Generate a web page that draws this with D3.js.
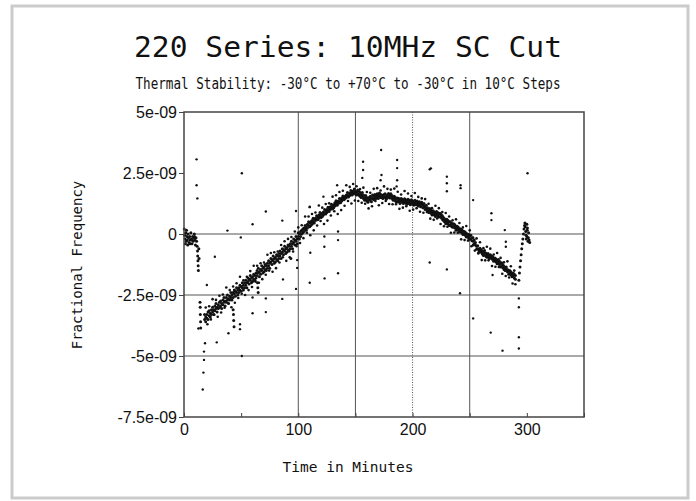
<!DOCTYPE html>
<html>
<head>
<meta charset="utf-8">
<script src="https://cdn.jsdelivr.net/npm/d3@7"></script>
<style>body{margin:0;background:#fff;}</style>
</head>
<body>
<script>
// values are fractional frequency in units of 1e-9
const timeTicks = [0, 100, 200, 300];
const timeMinorTicks = [0, 50, 100, 150, 200, 250, 300, 350];
const freqTicks = [5, 2.5, 0, -2.5, -5, -7.5];
const freqLabels = ["5e-09", "2.5e-09", "0", "-2.5e-09", "-5e-09", "-7.5e-09"];
const gridTimes = [100, 150, 250];
const dottedTimes = [200];
const gridFreqs = [0, -2.5, -5];

// main trace [minutes, value]
const trend = [
  [0.2,0.2],[0.5,-0.05],[1,-0.2],[1.2,-0.4],[1.5,0.05],[2,-0.3],[2.2,0.15],[2.5,-0.1],[3,-0.25],[3.2,-0.45],
  [3.5,0],[4,-0.15],[4.5,-0.35],[5,-0.1],[5.2,-0.4],[5.5,-0.25],[6,0.05],[6.5,-0.2],[7,-0.4],[7.2,-0.25],
  [7.5,-0.1],[8,-0.3],[8.5,-0.15],[9,0],[9.2,-0.1],[9.5,-0.25],[10,-0.45],[10.5,-0.15],[11,-0.3],
  [11.5,-0.5],[11.8,-0.7],[12,-0.9],[12.2,-1.1],[12.4,-1.3],[12.6,-1.5],[13,-0.6],[13.2,-1.0],
  [14,-2.8],[14.2,-3.0],[14.3,-3.3],[14.5,-3.6],[14.6,-3.85],
  [18,-3.5],[18,-3.3],[19,-3.4],[19,-3.6],[20,-3.3],[20,-3.45],[21,-3.2],[21,-3.5],[22,-3.35],[22,-3.15],
  [23,-3.25],[23,-3.4],[24,-3.1],[24,-3.3],[25,-3.2],[25,-3.0],[26,-3.1],[26,-3.3],[27,-2.95],[27,-3.15],
  [28,-3.05],[28,-2.85],[29,-3.0],[29,-3.2],[30,-2.9],[30,-3.05],[31,-2.8],[31,-3.0],[32,-2.95],[32,-2.75],
  [33,-2.85],[33,-3.05],[34,-2.7],[34,-2.9],[35,-2.8],[35,-2.6],[36,-2.75],[36,-2.95],[37,-2.6],[37,-2.8],
  [38,-2.7],[38,-2.5],[39,-2.65],[39,-2.85],[40,-2.55],[40,-2.7],[41,-2.6],[41,-2.4],[42,-2.5],[42,-2.7],
  [43,-2.4],[43,-2.6],[43,-3.1],[43.3,-3.3],[43.5,-3.55],[43.8,-3.8],[44,-2.45],[44,-2.3],[45,-2.35],[45,-2.55],
  [46,-2.4],[46,-2.2],[47,-2.3],[47,-2.5],[48,-2.2],[48,-2.4],[49,-2.3],[49,-2.1],[50,-2.15],[50,-2.35],
  [51,-2.2],[51,-2.0],[52,-2.1],[52,-2.3],[53,-2.0],[53,-2.2],[54,-2.1],[54,-1.9],[55,-2.0],[55,-2.2],
  [56,-1.95],[56,-1.8],[57,-1.85],[57,-2.05],[58,-1.9],[58,-1.7],[59,-1.8],[59,-2.0],[60,-1.75],[60,-1.95],
  [61,-1.85],[61,-1.65],[62,-1.7],[62,-1.9],[63,-1.6],[63,-1.8],[64,-1.7],[64,-1.5],[64.3,-2.0],[64.6,-2.2],
  [64.9,-2.4],[65,-1.6],[65,-1.4],[66,-1.55],[66,-1.75],[67,-1.45],[67,-1.65],[68,-1.5],[68,-1.3],[69,-1.4],
  [69,-1.6],[70,-1.35],[70,-1.55],[71,-1.45],[71,-1.25],[72,-1.3],[72,-1.5],[73,-1.2],[73,-1.4],[74,-1.3],
  [74,-1.1],[75,-1.2],[75,-1.4],[76,-1.15],[76,-1.0],[77,-1.05],[77,-1.25],[78,-1.1],[78,-0.9],[79,-1.0],
  [79,-1.2],[80,-0.95],[80,-1.15],[81,-1.05],[81,-0.85],[82,-0.9],[82,-1.1],[83,-0.8],[83,-1.0],[84,-0.9],
  [84,-0.7],[85,-0.8],[85,-1.0],[86,-0.75],[86,-0.6],[87,-0.65],[87,-0.85],[88,-0.7],[88,-0.5],[89,-0.6],
  [89,-0.8],[90,-0.55],[90,-0.75],[91,-0.65],[91,-0.45],[92,-0.5],[92,-0.7],[93,-0.4],[93,-0.6],[93.5,-1.0],
  [94,-0.5],[94,-0.3],[95,-0.4],[95,-0.6],[96,-0.35],[96,-0.2],[97,-0.25],[97,-0.45],[98,-0.3],[98,-0.1],
  [99,-0.2],[99,-0.4],[100,-0.1],[100,0.05],[101,0.0],[101,-0.2],[102,0.1],[102,-0.1],[103,0.15],[103,0.0],
  [104,0.2],[104,0.05],[105,0.25],[105,0.1],[106,0.2],[106,0.35],[107,0.3],[107,0.15],[108,0.4],[108,0.25],
  [109,0.35],[109,0.5],[110,0.45],[110,0.3],[111,0.5],[111,0.35],[112,0.55],[112,0.4],[113,0.5],[113,0.65],
  [114,0.6],[114,0.45],[115,0.65],[115,0.55],[116,0.6],[116,0.75],[117,0.7],[117,0.58],[118,0.78],[118,0.65],
  [119,0.72],[119,0.88],[120,0.8],[120,0.68],[121,0.85],[121,0.72],[122,0.9],[122,0.78],[123,0.85],[123,1.0],
  [124,0.95],[124,0.82],[125,1.0],[125,0.88],[126,0.95],[126,1.1],[127,1.05],[127,0.92],[128,1.12],[128,1.0],
  [129,1.08],[129,1.22],[130,1.15],[130,1.02],[131,1.2],[131,1.08],[132,1.28],[132,1.15],[133,1.22],[133,1.36],
  [134,1.3],[134,1.18],[135,1.35],[135,1.25],[136,1.3],[136,1.45],[137,1.4],[137,1.28],[138,1.48],[138,1.35],
  [139,1.42],[139,1.56],[140,1.5],[140,1.4],[141,1.55],[141,1.45],[142,1.6],[142,1.5],[143,1.56],[143,1.7],
  [144,1.62],[144,1.52],[145,1.68],[145,1.58],[146,1.62],[146,1.78],[147,1.7],[147,1.6],[148,1.76],[148,1.64],
  [149,1.7],[149,1.84],[150,1.75],[150,1.64],[151,1.72],[151,1.6],[152,1.65],[152,1.8],[153,1.6],[153,1.75],
  [154,1.7],[154,1.55],[155,1.62],[155,1.5],[156,1.55],[156,1.7],[157,1.45],[157,1.6],[158,1.5],[158,1.38],
  [159,1.42],[159,1.58],[160,1.35],[160,1.5],[161,1.45],[161,1.3],[162,1.5],[162,1.38],[163,1.4],[163,1.55],
  [164,1.32],[164,1.48],[165,1.45],[165,1.6],[166,1.55],[166,1.4],[167,1.48],[167,1.62],[168,1.58],[168,1.45],
  [169,1.52],[169,1.65],[170,1.6],[170,1.45],[171,1.55],[171,1.68],[172,1.62],[172,1.5],[173,1.5],[173,1.6],
  [174,1.58],[174,1.45],[175,1.62],[175,1.52],[176,1.5],[176,1.65],[177,1.55],[177,1.42],[178,1.6],[178,1.5],
  [179,1.52],[179,1.66],[180,1.6],[180,1.48],[181,1.55],[181,1.65],[182,1.45],[182,1.58],[183,1.5],[183,1.38],
  [184,1.42],[184,1.55],[185,1.35],[185,1.5],[186,1.45],[186,1.3],[187,1.38],[187,1.48],[188,1.32],[188,1.45],
  [189,1.4],[189,1.25],[190,1.35],[190,1.45],[191,1.3],[191,1.42],[192,1.38],[192,1.25],[193,1.32],[193,1.44],
  [194,1.28],[194,1.4],[195,1.35],[195,1.22],[196,1.3],[196,1.42],[197,1.25],[197,1.38],[198,1.33],[198,1.2],
  [199,1.28],[199,1.4],[200,1.22],[200,1.35],[201,1.3],[201,1.18],[202,1.25],[202,1.38],[203,1.32],[203,1.2],
  [204,1.22],[204,1.35],[205,1.28],[205,1.15],[206,1.2],[206,1.32],[207,1.25],[207,1.12],[208,1.18],[208,1.3],
  [209,1.22],[209,1.08],[210,1.15],[210,1.25],[211,1.1],[211,1.0],[212,1.05],[212,1.18],[213,0.95],[213,1.08],
  [214,1.0],[214,0.88],[215,0.92],[215,1.05],[216,0.85],[216,0.98],[217,0.9],[217,0.78],[218,0.82],[218,0.95],
  [219,0.78],[219,0.9],[220,0.85],[220,0.72],[221,0.8],[221,0.92],[222,0.75],[222,0.88],[223,0.82],[223,0.7],
  [224,0.72],[224,0.85],[225,0.68],[225,0.8],[226,0.6],[226,0.75],[227,0.55],[227,0.68],[228,0.62],[228,0.5],
  [229,0.55],[229,0.42],[230,0.48],[230,0.6],[231,0.42],[231,0.55],[232,0.5],[232,0.35],[233,0.38],[233,0.5],
  [234,0.32],[234,0.45],[235,0.4],[235,0.28],[236,0.3],[236,0.42],[237,0.25],[237,0.38],[238,0.3],[238,0.15],
  [239,0.2],[239,0.32],[240,0.15],[240,0.28],[241,0.22],[241,0.08],[242,0.1],[242,0.2],[243,0.05],[243,0.18],
  [244,0.12],[244,-0.02],[245,0.0],[245,0.1],[246,-0.05],[246,0.08],[247,0.02],[247,-0.12],[248,-0.1],[248,0.0],
  [249,-0.15],[249,-0.02],[250,-0.08],[250,-0.22],[251,-0.2],[251,-0.05],[252,-0.28],[252,-0.15],[253,-0.3],[253,-0.45],
  [254,-0.4],[254,-0.25],[255,-0.45],[255,-0.35],[256,-0.5],[256,-0.62],[257,-0.6],[257,-0.48],[258,-0.65],[258,-0.75],
  [259,-0.7],[259,-0.58],[260,-0.75],[260,-0.65],[261,-0.82],[261,-0.7],[262,-0.72],[262,-0.88],[263,-0.8],[263,-0.68],
  [264,-0.9],[264,-0.78],[265,-0.85],[265,-0.95],[266,-0.92],[266,-0.8],[267,-0.88],[267,-1.0],[268,-0.95],[268,-0.85],
  [269,-1.0],[269,-0.9],[270,-0.92],[270,-1.05],[271,-1.0],[271,-1.12],[272,-1.08],[272,-0.98],[273,-1.15],[273,-1.02],
  [274,-1.1],[274,-1.22],[275,-1.18],[275,-1.05],[276,-1.25],[276,-1.12],[277,-1.2],[277,-1.35],[278,-1.3],[278,-1.18],
  [279,-1.38],[279,-1.25],[280,-1.32],[280,-1.45],[281,-1.4],[281,-1.5],[282,-1.48],[282,-1.35],[283,-1.55],[283,-1.45],
  [284,-1.5],[284,-1.65],[285,-1.6],[285,-1.5],[286,-1.68],[286,-1.55],[287,-1.62],[287,-1.75],[288,-1.72],[288,-1.6],
  [289,-1.8],[289,-1.65],[290,-1.7],[290,-1.85],
  [293,-1.9],[293.5,-1.6],[294,-1.35],[294.5,-1.1],[295,-0.85],[295.5,-0.6],[296,-0.4],[296.5,-0.2],[297,0.0],
  [297.5,0.2],[298,0.35],[298.3,0.45],[298.5,0.3],[299,0.1],[299.3,-0.05],[299.5,-0.2],[300,-0.1],[300.3,0.15],
  [300.5,0.25],[301,-0.3],[301.3,-0.15],[301.5,0.05],[302,-0.25],[302.5,-0.35],[300,0.4]
];

// looser points on either side of the main trace [minutes, value]
const trendSpread = [
  [19,-3.01],[20.5,-3.7],[22,-2.96],[23.5,-3.5],[25,-2.67],[26.5,-3.31],[28,-2.7],[29.5,-3.39],[31,-2.53],[32.5,-3.22],
  [34,-2.48],[35.5,-3.02],[37,-2.19],[38.5,-2.83],[40,-2.3],[41.5,-3.0],[43,-2.15],[44.5,-2.82],[46,-2.02],[47.5,-2.62],
  [49,-1.75],[50.5,-2.45],[52,-1.9],[53.5,-2.5],[55,-1.75],[56.5,-2.3],[58,-1.52],[59.5,-2.17],[61,-1.3],[62.5,-1.95],
  [64,-1.3],[65.5,-2.0],[67,-1.2],[68.5,-1.85],[70,-1.17],[71.5,-1.67],[73,-0.85],[74.5,-1.5],[76,-0.78],[77.5,-1.55],
  [79,-0.75],[80.5,-1.4],[82,-0.72],[83.5,-1.17],[85,-0.45],[86.5,-0.95],[88,-0.3],[89.5,-1.1],[91,-0.2],[92.5,-0.95],
  [94,-0.12],[95.5,-0.72],[97,0.1],[98.5,-0.5],[100,0.27],
  [101.5,-0.37],[103,0.36],[104.5,-0.17],[106,0.72],[107.5,0.05],[109,0.72],[110.5,-0.05],[112,0.82],[113.5,0.15],[115,0.88],
  [116.5,0.35],[118,1.17],[119.5,0.53],[121,1.08],[122.5,0.41],[124,1.23],[125.5,0.55],[127,1.26],[128.5,0.76],[130,1.53],
  [131.5,0.93],[133,1.59],[134.5,0.82],[136,1.72],[137.5,0.98],[139,1.77],[140.5,1.16],[142,2.0],[143.5,1.35],[145,1.93],
  [146.5,1.25],[148,2.05],[149.5,1.37],
  [151,1.96],[152.5,1.35],[154,1.84],[155.5,1.28],[157,1.9],[158.5,1.24],[160,1.72],[161.5,1.05],[163,1.69],[164.5,1.14],
  [166,1.85],[167.5,1.35],[169,1.88],[170.5,1.18],[172,1.78],[173.5,1.27],[175,1.95],[176.5,1.35],[178,1.85],[179.5,1.23],
  [181,1.82],[182.5,1.22],[184,1.86],[185.5,1.22],[187,1.73],[188.5,1.03],[190,1.62],[191.5,1.08],[193,1.76],[194.5,1.14],
  [196,1.66],[197.5,0.95],[199,1.56],[200.5,1.0],[202,1.68],[203.5,1.06],[205,1.52],[206.5,0.91],[208,1.46],[209.5,0.87],
  [211,1.43],[212.5,0.9],[214,1.24],[215.5,0.63],[217,1.06],[218.5,0.58],[220,1.16],[221.5,0.64],[223,1.06],[224.5,0.41],
  [226,0.9],[227.5,0.32],[229,0.86],[230.5,0.3],[232,0.72],[233.5,0.05],[235,0.56],[236.5,0.06],[238,0.6],[239.5,0.05],
  [241,0.45],[242.5,-0.22],[244,0.27],[245.5,-0.25],[247,0.33],[248.5,-0.27],[250,0.15],
  [251.5,-0.5],[253,-0.15],[254.5,-0.68],[256,-0.18],[257.5,-0.8],[259,-0.34],[260.5,-1.07],[262,-0.58],[263.5,-1.08],[265,-0.52],
  [266.5,-1.08],[268,-0.6],[269.5,-1.31],[271,-0.84],[272.5,-1.34],[274,-0.78],[275.5,-1.35],[277,-0.98],[278.5,-1.63],[280,-1.16],
  [281.5,-1.72],[283,-1.12],[284.5,-1.78],[286,-1.32],[287.5,-2.03],[289,-1.5],[290,-2.06]
];

// scattered points away from the main trace [minutes, value]
const outliers = [
  [11,3.06],[11,2.0],[11.7,1.46],[50.6,2.49],[71.6,0.92],[60,0.4],[86,0.55],[98,0.94],[110,1.1],[38,0.14],
  [49.7,-0.14],[27,-0.93],[20,-2.09],[12.6,-3.87],[18.4,-4.48],[28.7,-4.44],[38.9,-4.07],[49,-3.7],[49,-3.9],
  [50.6,-5.0],[17.5,-4.82],[17.5,-5.16],[17,-5.68],[16.4,-6.37],[60,-3.25],[71.6,-3.2],[60,-2.6],[71.6,-2.64],
  [86,-2.66],[86.6,-1.86],[98,-2.25],[99,-1.07],[99,-1.39],[110,-2.0],[172.5,3.44],[156.7,2.96],[156.7,2.62],
  [186.5,3.03],[186.5,2.7],[172.8,2.42],[186.5,2.2],[215,2.65],[216,2.69],[230,2.35],[230,2.08],[242,2.0],
  [242,1.88],[253,1.39],[269,0.85],[269,0.57],[300.6,2.49],[280.7,0.16],[281.6,-0.32],[281.6,-0.52],
  [122,1.53],[110,1.12],[134,2.0],[134.8,0.1],[134.8,-0.25],[122.8,-0.1],[122.8,-0.52],[110.5,-0.77],
  [123,-1.82],[134.8,-1.61],[215,-1.17],[230,-1.45],[241.5,-2.43],[253,-3.46],[268.4,-4.04],[278.7,-4.78],
  [293,-2.64],[293,-3.0],[293,-4.23],[293,-4.69],[270,-1.68],[156,2.3],[172,2.2],[186,1.95],[230,1.75]
];

const width = 696;
const height = 501;
const marginTop = 112;
const marginRight = 112;
const marginBottom = 84;
const marginLeft = 184;

const x = d3.scaleLinear()
    .domain([0, 350])
    .range([marginLeft, width - marginRight]);

const y = d3.scaleLinear()
    .domain([-7.5, 5])
    .range([height - marginBottom, marginTop]);

const svg = d3.create("svg")
    .attr("width", width)
    .attr("height", height)
    .attr("viewBox", [0, 0, width, height]);

document.body.appendChild(svg.node());

// outer light frame
svg.append("rect")
    .attr("x", 12).attr("y", 6)
    .attr("width", 676).attr("height", 492)
    .attr("fill", "#fff")
    .attr("stroke", "#cbcbcb")
    .attr("stroke-width", 3);

// titles
svg.append("text")
    .attr("x", 348).attr("y", 57)
    .attr("text-anchor", "middle")
    .attr("font-family", "DejaVu Sans Mono")
    .attr("font-size", 29)
    .attr("textLength", 428)
    .attr("lengthAdjust", "spacingAndGlyphs")
    .attr("fill", "#111")
    .text("220 Series: 10MHz SC Cut");

svg.append("text")
    .attr("x", 348).attr("y", 89)
    .attr("text-anchor", "middle")
    .attr("font-family", "DejaVu Sans Mono")
    .attr("font-size", 15)
    .attr("textLength", 425)
    .attr("lengthAdjust", "spacingAndGlyphs")
    .attr("fill", "#111")
    .text("Thermal Stability: -30°C to +70°C to -30°C in 10°C Steps");

// grid lines
svg.append("g")
    .attr("stroke", "#555")
    .attr("stroke-width", 1)
    .selectAll()
    .data(gridTimes)
    .join("line")
    .attr("x1", d => x(d)).attr("x2", d => x(d))
    .attr("y1", y(5)).attr("y2", y(-7.5));

svg.append("g")
    .attr("stroke", "#555")
    .attr("stroke-width", 1)
    .attr("stroke-dasharray", "1,1.5")
    .selectAll()
    .data(dottedTimes)
    .join("line")
    .attr("x1", d => x(d)).attr("x2", d => x(d))
    .attr("y1", y(5)).attr("y2", y(-7.5));

svg.append("g")
    .attr("stroke", "#555")
    .attr("stroke-width", 1)
    .selectAll()
    .data(gridFreqs)
    .join("line")
    .attr("x1", x(0)).attr("x2", x(350))
    .attr("y1", d => y(d)).attr("y2", d => y(d));

// small inner ticks on bottom axis
svg.append("g")
    .attr("transform", `translate(0,${y(-7.5)})`)
    .call(d3.axisBottom(x).tickValues(timeMinorTicks).tickSize(-4).tickFormat(""))
    .call(g => g.select(".domain").remove())
    .call(g => g.selectAll("line").attr("stroke", "#444"));

// points
const dots = svg.append("g").attr("fill", "#111");
dots.selectAll(".trend")
    .data(trend)
    .join("circle")
    .attr("class", "trend")
    .attr("cx", d => x(d[0]))
    .attr("cy", d => y(d[1]))
    .attr("r", 1.5);
dots.selectAll(".spread")
    .data(trendSpread)
    .join("circle")
    .attr("class", "spread")
    .attr("cx", d => x(d[0]))
    .attr("cy", d => y(d[1]))
    .attr("r", 1.3);
dots.selectAll(".outlier")
    .data(outliers)
    .join("circle")
    .attr("class", "outlier")
    .attr("cx", d => x(d[0]))
    .attr("cy", d => y(d[1]))
    .attr("r", 1.2);

// plot frame
svg.append("rect")
    .attr("x", x(0)).attr("y", y(5))
    .attr("width", x(350) - x(0))
    .attr("height", y(-7.5) - y(5))
    .attr("fill", "none")
    .attr("stroke", "#444")
    .attr("stroke-width", 1.5);

// axes
svg.append("g")
    .attr("transform", `translate(${marginLeft},0)`)
    .call(d3.axisLeft(y).tickValues(freqTicks).tickFormat((d, i) => freqLabels[i]).tickSize(5).tickPadding(2))
    .call(g => g.select(".domain").remove())
    .call(g => g.selectAll("line").attr("stroke", "#444"))
    .call(g => g.selectAll("text")
        .attr("font-family", "Liberation Sans, Arial, sans-serif")
        .attr("font-size", 16)
        .attr("fill", "#111"));

svg.append("g")
    .attr("transform", `translate(0,${height - marginBottom})`)
    .call(d3.axisBottom(x).tickValues(timeTicks).tickSize(0).tickPadding(7))
    .call(g => g.select(".domain").remove())
    .call(g => g.selectAll("text")
        .attr("font-family", "Liberation Sans, Arial, sans-serif")
        .attr("font-size", 16)
        .attr("fill", "#111"));

// axis titles
svg.append("text")
    .attr("x", 348).attr("y", 472)
    .attr("text-anchor", "middle")
    .attr("font-family", "DejaVu Sans Mono")
    .attr("font-size", 14.5)
    .attr("fill", "#111")
    .text("Time in Minutes");

svg.append("text")
    .attr("transform", "translate(82,265) rotate(-90)")
    .attr("text-anchor", "middle")
    .attr("font-family", "DejaVu Sans Mono")
    .attr("font-size", 14)
    .attr("fill", "#111")
    .text("Fractional Frequency");
</script>
</body>
</html>
